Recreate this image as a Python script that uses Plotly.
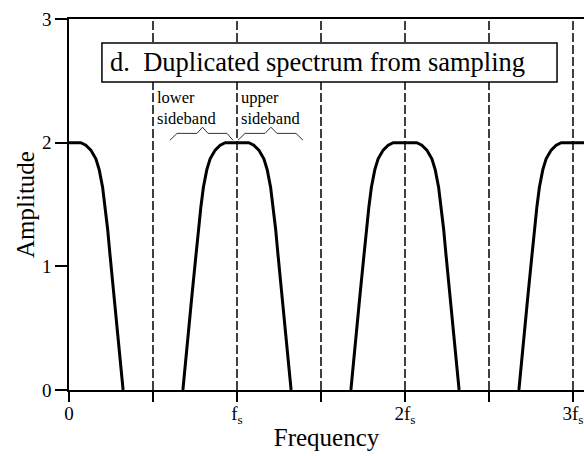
import plotly.graph_objects as go

# Baseband spectrum (right half, mirrored), in units of fs
half_offset = [0.0, 0.04, 0.07, 0.10, 0.13, 0.16, 0.18, 0.20, 0.215, 0.23, 0.245, 0.27, 0.29, 0.31, 0.322]
half_amp = [2.0, 2.0, 2.0, 1.98, 1.94, 1.87, 1.78, 1.64, 1.48, 1.30, 1.08, 0.74, 0.46, 0.18, 0.0]
# Spectrum copies at multiples of the sampling rate
lobe_centers = [0, 1, 2, 3]
# Dashed guide lines (multiples of fs/2)
dashed_x = [0.5, 1.0, 1.5, 2.0, 2.5, 3.0]
# Tick labels
tick_vals = [0, 1, 2, 3]
tick_text = ["0", "f<sub>s</sub>", "2f<sub>s</sub>", "3f<sub>s</sub>"]
minor_tick_vals = [0.5, 1.5, 2.5]
y_tick_vals = [0, 1, 2, 3]

# Brace outlines (data coords)
lower_brace_x = [0.601, 0.643, 0.762, 0.795, 0.827, 0.940, 0.976]
upper_brace_x = [1.006, 1.048, 1.167, 1.202, 1.238, 1.351, 1.393]
brace_y = [2.02, 2.075, 2.075, 2.125, 2.075, 2.075, 2.02]

xs, ys = [], []
for c in lobe_centers:
    left_x = [c - o for o in reversed(half_offset)]
    left_y = list(reversed(half_amp))
    right_x = [c + o for o in half_offset[1:]]
    right_y = half_amp[1:]
    xs += left_x + right_x + [None]
    ys += left_y + right_y + [None]

FONT = "Liberation Serif"
fig = go.Figure()

shapes = []
for dx in dashed_x:
    shapes.append(dict(type="line", xref="x", yref="y", x0=dx, x1=dx, y0=0, y1=3,
                       line=dict(color="black", width=1.5, dash="9px,3px"), layer="below"))
# Title box
shapes.append(dict(type="rect", xref="x", yref="y", x0=0.196, x1=2.905, y0=2.49, y1=2.805,
                   fillcolor="white", line=dict(color="black", width=1.5), layer="below"))

fig.add_trace(go.Scatter(x=xs, y=ys, mode="lines", line=dict(color="black", width=3),
                         hoverinfo="skip", showlegend=False))
for bx in (lower_brace_x, upper_brace_x):
    fig.add_trace(go.Scatter(x=bx, y=brace_y, mode="lines", line=dict(color="#333", width=1),
                             hoverinfo="skip", showlegend=False))

side_font = dict(family=FONT, size=16.5, color="black")
annotations = [
    dict(x=0.2, y=2.65, xref="x", yref="y", text="d.\u00a0\u00a0Duplicated spectrum from sampling",
         showarrow=False, xanchor="left", yanchor="middle", font=dict(family=FONT, size=26.5, color="black"),
         xshift=5),
    dict(x=0.518, y=2.28, xref="x", yref="y", text="lower<br>sideband", showarrow=False,
         xanchor="left", yanchor="middle", align="left", font=side_font, borderpad=0),
    dict(x=1.018, y=2.28, xref="x", yref="y", text="upper<br>sideband", showarrow=False,
         xanchor="left", yanchor="middle", align="left", font=side_font, borderpad=0),
]

fig.update_layout(
    width=584, height=456,
    margin=dict(l=69, r=0, t=19, b=66),
    plot_bgcolor="white", paper_bgcolor="white",
    shapes=shapes, annotations=annotations,
    font=dict(family=FONT, color="black"),
    xaxis=dict(range=[0, 515 / 168], tickvals=tick_vals, ticktext=tick_text,
               ticks="outside", ticklen=10, tickwidth=1.5, tickcolor="black",
               minor=dict(tickvals=minor_tick_vals, ticks="outside", ticklen=10, tickwidth=1.5,
                          tickcolor="black", showgrid=False),
               showline=True, linecolor="black", linewidth=1.5, mirror=True,
               showgrid=False, zeroline=False, automargin=False,
               ticklabeloverflow="allow", ticklabelstandoff=-5,
               tickfont=dict(family=FONT, size=19, color="black"),
               title=dict(text="Frequency", font=dict(family=FONT, size=25, color="black"), standoff=3)),
    yaxis=dict(range=[0, 3], tickvals=y_tick_vals, ticks="outside", ticklen=12, tickwidth=1.5,
               tickcolor="black", showline=True, linecolor="black", linewidth=1.5,
               showgrid=False, zeroline=False, automargin=False,
               tickfont=dict(family=FONT, size=19, color="black"),
               title=dict(text="Amplitude", font=dict(family=FONT, size=25, color="black"), standoff=0)),
)

fig.write_html("out.html")
